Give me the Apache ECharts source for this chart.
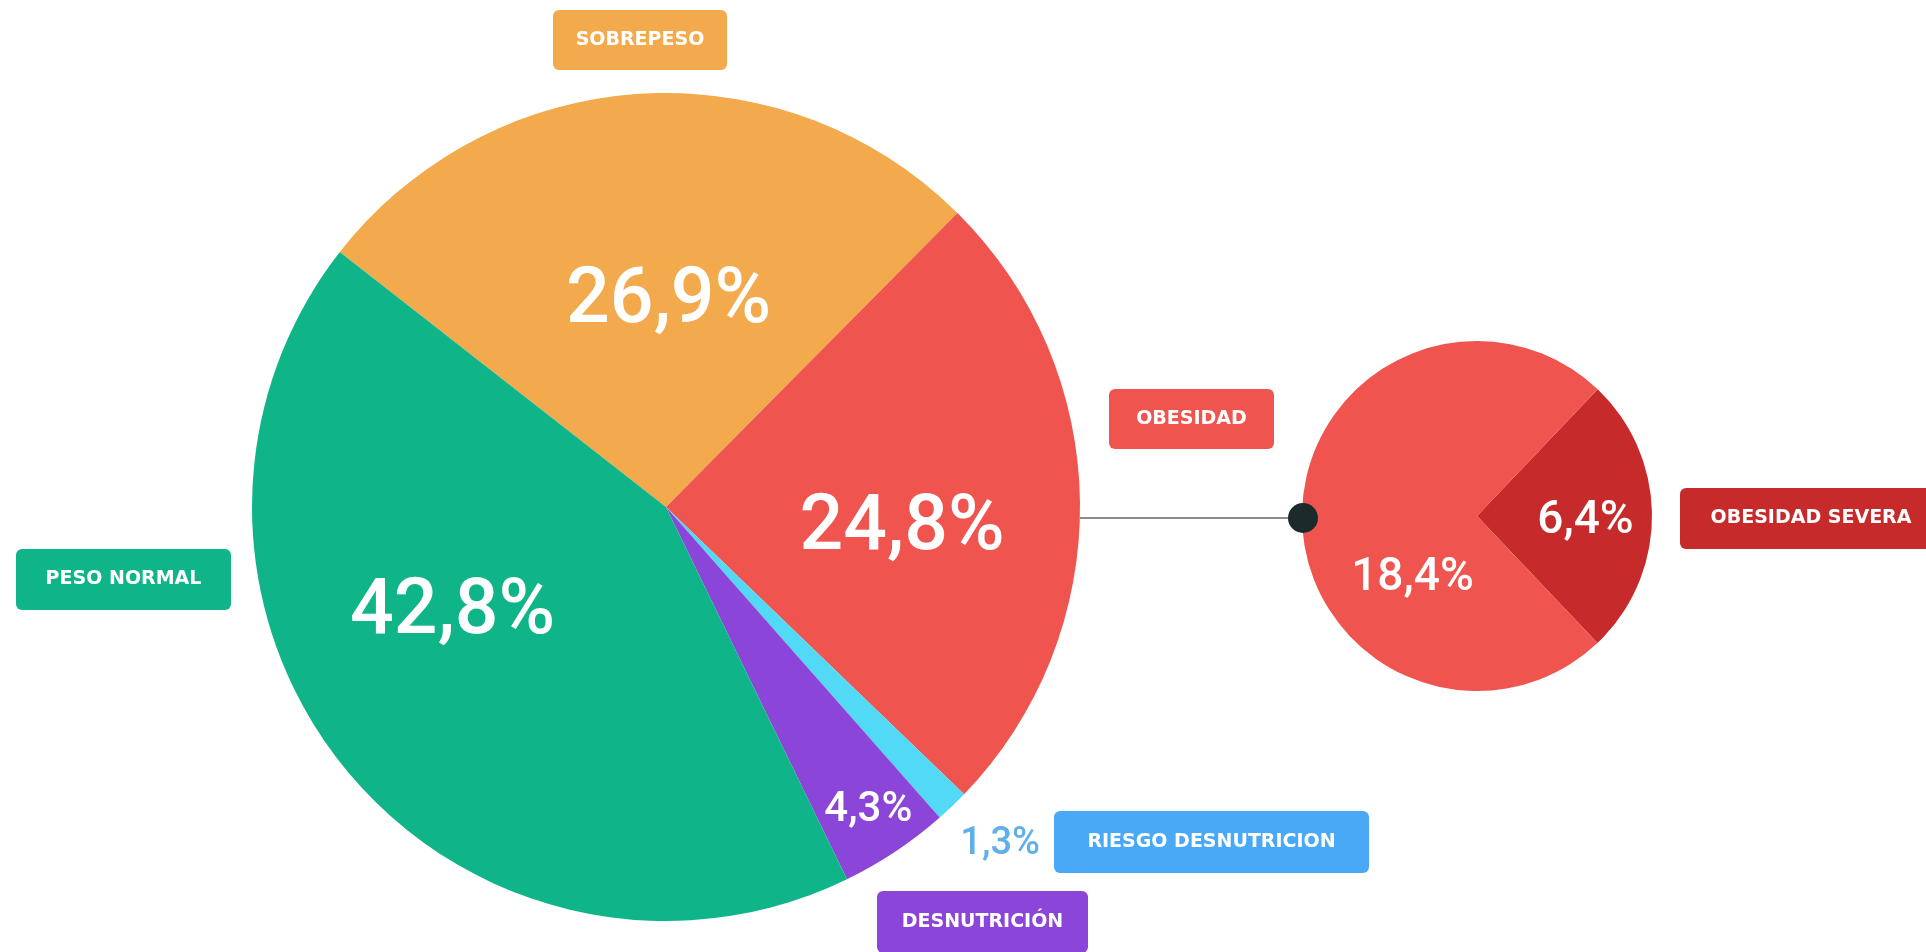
<!DOCTYPE html>
<html lang="es">
<head>
    <meta charset="UTF-8">
    <script src="https://cdn.jsdelivr.net/npm/echarts@6/dist/echarts.min.js"></script>
    <title>Estado nutricional</title>
    <style>
        html, body {margin: 0; padding: 0; background: #fff;}
    </style>
</head>
<body>
    <div id="estado-nutricional" style="width: 1926px;height:952px;"></div>
</body>
<script type="text/javascript">
    // datos (clockwise from the top-left edge of SOBREPESO)
    var categorias = ['SOBREPESO', 'OBESIDAD', 'RIESGO DESNUTRICION', 'DESNUTRICIÓN', 'PESO NORMAL'];
    var porcentajes = [26.9, 24.8, 1.3, 4.3, 42.8];
    var obesidadCategorias = ['OBESIDAD SEVERA', 'OBESIDAD'];
    var obesidadValores = [6.4, 18.4];

    var colores = ['#f2aa4c', '#f0544f', '#52d9f6', '#8b45d8', '#0fb589'];
    var coloresObesidad = ['#c62a2a', '#f0544f'];

    // label nudges (px) from the default inside position
    var desplazamiento = [[16, 5], [26, 25], [189, 186], [86, 129], [-50, -25]];
    var desplazamientoObesidad = [[18, 5], [26, 63]];

    var cx = 666, cy = 507, radio = 414;
    var cx2 = 1477, cy2 = 516, radio2 = 175;

    function fmt(v) {
        return v.toFixed(1).replace('.', ',') + '%';
    }

    var cajas = [
        {text: 'SOBREPESO', x: 553, y: 10, w: 174, h: 60, color: '#f2aa4c'},
        {text: 'PESO NORMAL', x: 16, y: 549, w: 215, h: 61, color: '#0fb589'},
        {text: 'OBESIDAD', x: 1109, y: 389, w: 165, h: 60, color: '#f0544f'},
        {text: 'OBESIDAD SEVERA', x: 1680, y: 488, w: 262, h: 61, color: '#c62a2a'},
        {text: 'RIESGO DESNUTRICION', x: 1054, y: 811, w: 315, h: 62, color: '#4aa9f7'},
        {text: 'DESNUTRICIÓN', x: 877, y: 891, w: 211, h: 62, color: '#8b45d8'}
    ];

    var graficos = [
        {type: 'line', shape: {x1: cx + radio, y1: 518, x2: cx2 - radio2, y2: 518},
         style: {stroke: '#666', lineWidth: 1.5}, z: 1},
        {type: 'circle', shape: {cx: cx2 - radio2 + 1, cy: 518, r: 15},
         style: {fill: '#1d2a2c'}, z: 10}
    ];
    cajas.forEach(function (c) {
        graficos.push({
            type: 'group', z: 5,
            children: [
                {type: 'rect', shape: {x: c.x, y: c.y, width: c.w, height: c.h, r: 6},
                 style: {fill: c.color}},
                {type: 'text', x: c.x + c.w / 2, y: c.y + c.h / 2,
                 style: {text: c.text, fill: '#fff', font: 'bold 19px "DejaVu Sans"',
                         align: 'center', verticalAlign: 'middle'}}
            ]
        });
    });

    var chart = echarts.init(document.getElementById('estado-nutricional'));
    chart.setOption({
        animation: false,
        graphic: graficos,
        series: [{
            name: 'Estado nutricional',
            type: 'pie',
            center: [cx, cy],
            radius: [0, radio],
            startAngle: 142,
            clockwise: true,
            silent: true,
            data: categorias.map(function (n, i) {
                return {
                    name: n, value: porcentajes[i],
                    itemStyle: {color: colores[i]},
                    label: i === 2 ? {color: '#5fb0ea', fontSize: 38} :
                           i === 3 ? {fontSize: 42} : {}
                };
            }),
            label: {
                position: 'inside',
                color: '#fff',
                fontFamily: 'Roboto',
                fontWeight: 500,
                fontSize: 77,
                formatter: function (p) { return fmt(p.value); }
            },
            labelLine: {show: false},
            labelLayout: function (p) {
                return {dx: desplazamiento[p.dataIndex][0], dy: desplazamiento[p.dataIndex][1]};
            }
        }, {
            name: 'Obesidad',
            type: 'pie',
            center: [cx2, cy2],
            radius: [0, radio2],
            startAngle: 46.4,
            clockwise: true,
            silent: true,
            data: obesidadCategorias.map(function (n, i) {
                return {name: n, value: obesidadValores[i], itemStyle: {color: coloresObesidad[i]}};
            }),
            label: {
                position: 'inside',
                color: '#fff',
                fontFamily: 'Roboto',
                fontWeight: 500,
                fontSize: 46,
                formatter: function (p) { return fmt(p.value); }
            },
            labelLine: {show: false},
            labelLayout: function (p) {
                return {dx: desplazamientoObesidad[p.dataIndex][0], dy: desplazamientoObesidad[p.dataIndex][1]};
            }
        }]
    });
</script>
</html>
